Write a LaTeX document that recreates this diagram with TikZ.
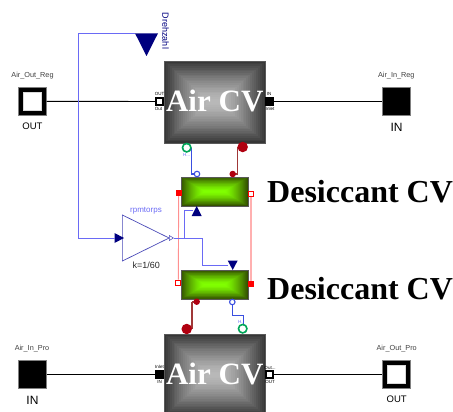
\documentclass[tikz,border=0pt]{standalone}
\usepackage{fontspec}
\setmainfont{Liberation Serif}
\setsansfont{Liberation Sans}
\usetikzlibrary{shapes.geometric,calc}
\definecolor{navyb}{HTML}{00007F}
\definecolor{sigblue}{HTML}{6A6AF5}
\definecolor{gainblue}{HTML}{4A4AB8}
\definecolor{heatblue}{HTML}{3A4FE0}
\definecolor{pinkl}{HTML}{FF9090}
\definecolor{pinkw}{HTML}{FFB0B0}
\definecolor{dred}{HTML}{A03838}
\definecolor{portred}{HTML}{B00010}
\definecolor{txtg}{HTML}{404040}
\definecolor{lblue}{HTML}{6A6AF5}
\definecolor{airo}{HTML}{363636}
\definecolor{airi}{HTML}{B8B8B8}
\definecolor{greeno}{HTML}{345200}
\definecolor{greeni}{HTML}{80FF00}
\newcommand{\bevelbox}[9]{%
 % name x1 y1 x2 y2 outer inner text vshift
 \pgfmathsetmacro{\bw}{#4-#2}\pgfmathsetmacro{\bh}{#5-#3}
 \pgfmathsetmacro{\bdy}{\bh/2/24}
 \pgfmathsetmacro{\bdx}{(\bh/2+(\bw-\bh)/4)/24}
 \foreach \i in {0,...,23}{
   \pgfmathtruncatemacro{\pct}{100*(1-\i/23)^1.4}
   \fill[#6!\pct!#7] ({#2+\i*\bdx},{#3+\i*\bdy}) rectangle ({#4-\i*\bdx},{#5-\i*\bdy});
 }
 \node[draw=gray!70!black,line width=0.8pt,inner sep=0pt,minimum width=\bw pt,minimum height=\bh pt] (#1) at ({(#2+#4)/2},{(#3+#5)/2}) {};
 \node[font=\bfseries\fontsize{31}{31}\selectfont,text=white,inner sep=0pt] (#1text) at ([yshift=#9]#1.center) {#8};
}
\tikzset{
  bigsq/.style={draw=gray,fill=black,line width=0.5pt,minimum size=28pt,inner sep=0pt},
  outsq/.style={draw=white!85!black,fill=white,line width=0.5pt,minimum size=18pt,inner sep=0pt},
  fluidin/.style={fill=black,minimum width=9pt,minimum height=8.5pt,inner sep=0pt},
  fluidout/.style={draw=black,fill=white,line width=1.6pt,minimum width=7pt,minimum height=6.5pt,inner sep=0pt},
  conn/.style={black,line width=0.9pt},
  sig/.style={sigblue,line width=0.8pt},
  heat/.style={heatblue,line width=1.1pt},
  pinkline/.style={pinkl,line width=0.9pt},
  pinkwide/.style={pinkw,line width=1.4pt},
  dredline/.style={dred,line width=1.1pt},
  tname/.style={font=\sffamily\fontsize{7.3}{8}\selectfont,text=txtg,inner sep=0pt},
  plabel/.style={font=\sffamily\fontsize{4.5}{5}\selectfont,text=black,inner sep=0pt},
  hlabel/.style={font=\sffamily\fontsize{4.5}{5}\selectfont,text=lblue,inner sep=0pt},
  porthot/.style={circle,fill=portred,minimum size=10.5pt,inner sep=0pt},
  portsmallred/.style={circle,fill=portred,minimum size=6.5pt,inner sep=0pt},
  portcold/.style={circle,draw=heatblue,fill=white,line width=1.1pt,minimum size=5.5pt,inner sep=0pt},
  portheat/.style={circle,draw=teal!70!green,fill=white,line width=1.6pt,minimum size=8.5pt,inner sep=0pt},
  redsolid/.style={fill=red,minimum size=6pt,inner sep=0pt},
  redhollow/.style={draw=red,fill=white,line width=1.3pt,minimum size=5pt,inner sep=0pt},
  ntri/.style={isosceles triangle,isosceles triangle stretches,fill=navyb,inner sep=0pt,outer sep=0pt},
  desic/.style={font=\bfseries\fontsize{32}{32}\selectfont,text=black,anchor=west,inner sep=0pt},
}
\begin{document}
\begin{tikzpicture}[x=1pt,y=-1pt]
\useasboundingbox (0,0) rectangle (453,412);
% Air volumes
\bevelbox{airtop}{164}{61}{265.5}{143}{airo}{airi}{Air CV}{1pt}
\begin{scope}
\clip (0,0) rectangle (453,412);
\bevelbox{airbot}{164}{334}{265.5}{416}{airo}{airi}{Air CV}{1pt}
\end{scope}
% Desiccant volumes
\bevelbox{desictop}{181.3}{177.3}{248.3}{206}{greeno}{greeni}{}{0pt}
\bevelbox{desicbot}{181.3}{270.3}{248.3}{299.3}{greeno}{greeni}{}{0pt}
\node[desic] (dlab1) at (267,191.5) {Desiccant CV};
\node[desic] (dlab2) at (267,289) {Desiccant CV};
% Big terminals
\node[bigsq] (aorsq) at (32.3,101.3) {};
\node[outsq] (aorin) at (aorsq.center) {};
\node[tname] (aorname) at (32.5,75.7) {Air\_Out\_Reg};
\node[font=\sffamily\fontsize{9.5}{10}\selectfont,text=black,inner sep=0pt] (aortxt) at (32.5,126) {OUT};
\node[bigsq] (airsq) at (396.5,101.3) {};
\node[tname] (airname) at (396.3,76) {Air\_In\_Reg};
\node[font=\sffamily\fontsize{12}{12}\selectfont,text=black,inner sep=0pt] (airtxt) at (396.5,127) {IN};
\node[bigsq] (aipsq) at (32.3,374.5) {};
\node[tname] (aipname) at (32,349) {Air\_In\_Pro};
\node[font=\sffamily\fontsize{12}{12}\selectfont,text=black,inner sep=0pt] (aiptxt) at (32.5,400.3) {IN};
\node[bigsq] (aopsq) at (396.7,374.5) {};
\node[outsq] (aopin) at (aopsq.center) {};
\node[tname] (aopname) at (396.7,349) {Air\_Out\_Pro};
\node[font=\sffamily\fontsize{9.5}{10}\selectfont,text=black,inner sep=0pt] (aoptxt) at (396.7,399) {OUT};
% Small fluid ports
\node[fluidout] (p1) at (159.7,101.5) {};
\node[fluidin] (p2) at (269.5,101.3) {};
\node[fluidin] (p3) at (159.5,374.5) {};
\node[fluidout] (p4) at (269.3,374.5) {};
\node[plabel] (p1a) at (159.5,94) {OUT};
\node[plabel] (p1b) at (158.5,109.3) {Out};
\node[plabel] (p2a) at (269,94) {IN};
\node[plabel] (p2b) at (270,109.3) {Inlet};
\node[plabel] (p3a) at (159.5,367.3) {Inlet};
\node[plabel] (p3b) at (159.5,381.7) {IN};
\node[plabel] (p4a) at (270,367.5) {Out...};
\node[plabel] (p4b) at (270,381.7) {OUT};
% Fluid connectors
\draw[conn] (aorsq.east) -- (p1.west);
\draw[conn] (p2.east) -- (airsq.west);
\draw[conn] (aipsq.east) -- (p3.west);
\draw[conn] (p4.east) -- (aopsq.west);
% Red desiccant ports
\node[redsolid] (rs1) at (178.7,193) {};
\node[redhollow] (rh1) at (251,193.7) {};
\node[redhollow] (rh2) at (178.3,282.7) {};
\node[redsolid] (rs2) at (251,283.7) {};
\draw[pinkline] (rs1.south) -- (rh2.north);
\draw[pinkwide] (rh1.south) -- (rs2.north);
% Heat ports
\coordinate (c1) at (191.2,148);
\coordinate (c2) at (237.3,147);
\coordinate (c3) at (192,302);
\coordinate (c4) at (243.3,325);
\draw[heat] (c1) |- (197,174);
\draw[dredline] (c2) |- (232.7,174);
\draw[dredline] (c3) -- (192,329);
\draw[dredline] (c3) -- (196.7,302);
\node[portheat] (ht) at (186.7,147.7) {};
\node[hlabel] (htl) at (186.7,154.5) {H...};
\node[porthot] (rt) at (242.7,147) {};
\node[portcold] (hc1) at (197,174) {};
\node[portsmallred] (sr1) at (232.7,174) {};
\node[portsmallred] (sr2) at (196.7,301.7) {};
\node[portcold] (hc2) at (232.3,302) {};
\node[porthot] (rb) at (186.7,329) {};
\coordinate (bh) at (232.3,315.3);
\draw[heat] (hc2.south) -- (bh) -- (243.3,315.3) -- (c4);
\node[portheat] (hb) at (242.7,328.7) {};
\node[hlabel] (hbl) at (241,321.5) {H..};
% Signals
\node[ntri,anchor=apex,shape border rotate=-90,minimum width=23pt,minimum height=22.7pt] (dz) at (146.5,56) {};
\node[font=\sffamily\fontsize{9}{9}\selectfont,text=navyb,rotate=-90,inner sep=0pt] (dzt) at (165.5,31) {Drehzahl};
\node[isosceles triangle,isosceles triangle stretches,draw=gainblue,fill=white,line width=0.7pt,inner sep=0pt,anchor=apex,minimum width=46pt,minimum height=46.7pt] (gain) at (170,238) {};
\node[ntri,anchor=apex,minimum width=10pt,minimum height=9.5pt] (gin) at (124,238) {};
\node[isosceles triangle,isosceles triangle stretches,draw=gainblue,fill=white,line width=0.5pt,inner sep=0pt,anchor=apex,minimum width=5pt,minimum height=4pt] (gout) at (174,238) {};
\node[font=\sffamily\fontsize{8}{8}\selectfont,text=lblue,inner sep=0pt] (gname) at (146,210.7) {rpmtorps};
\node[font=\sffamily\fontsize{9}{9}\selectfont,text=black!85,inner sep=0pt] (gk) at (146.3,265) {k=1/60};
\node[ntri,anchor=apex,shape border rotate=90,minimum width=10pt,minimum height=10pt] (t1) at (196.7,206) {};
\node[ntri,anchor=apex,shape border rotate=-90,minimum width=10pt,minimum height=9.5pt] (t2) at (232.7,270) {};
\coordinate (b1) at (184.3,238);
\coordinate (b2) at (202.3,238);
\draw[sig] (135,33.3) -- (78.3,33.3) -- (78.3,238) -- (gin.west);
\draw[sig] (gout.apex) -- (b2) -- (202.3,265) -- (227.7,265);
\draw[sig] (b1) -- (184.3,210.3) -- (192.5,210.3);
\end{tikzpicture}
\end{document}
